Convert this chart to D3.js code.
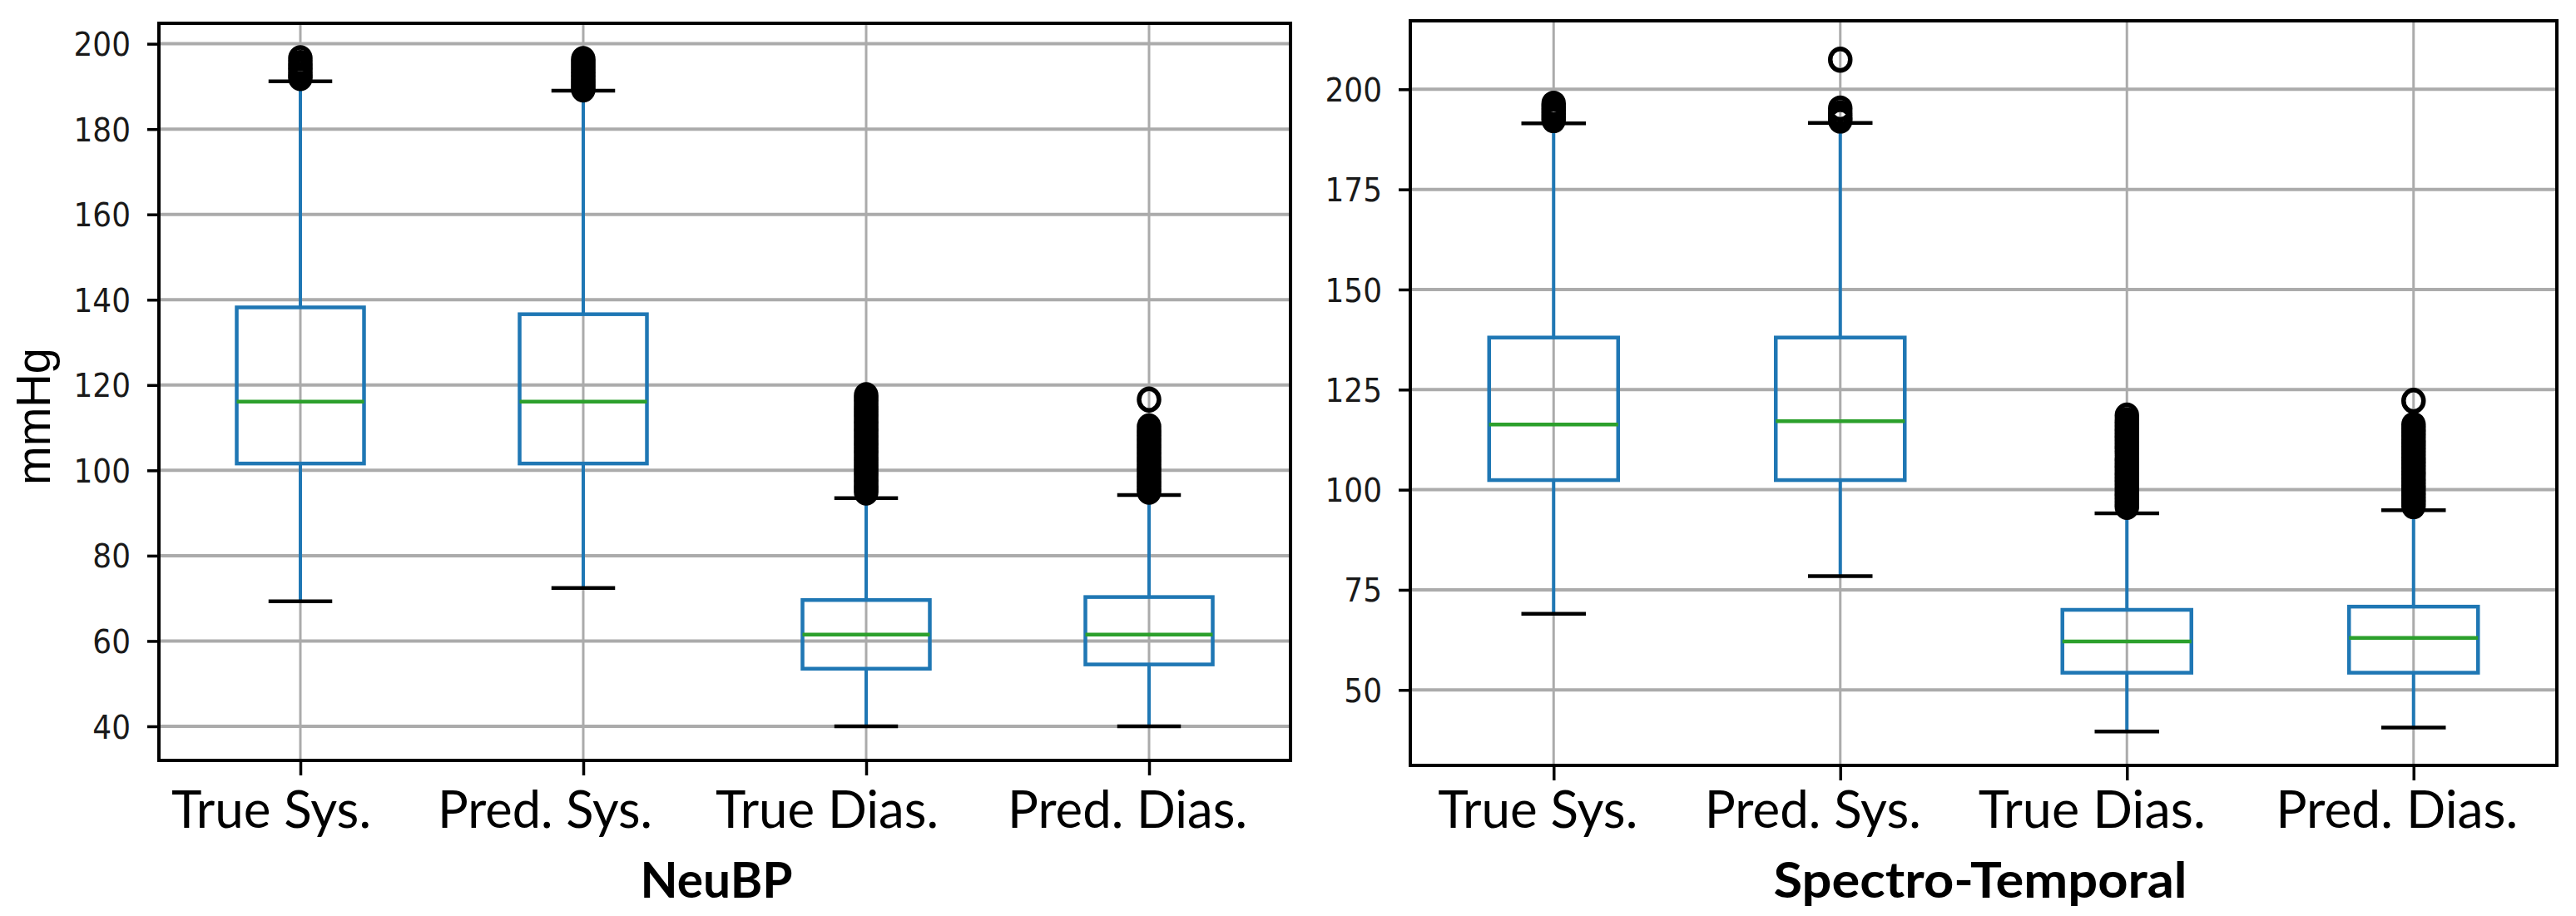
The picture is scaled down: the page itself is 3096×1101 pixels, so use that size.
<!DOCTYPE html>
<html><head><meta charset="utf-8">
<script src="https://cdn.jsdelivr.net/npm/d3@7"></script>
<style>html,body{margin:0;padding:0;background:#fff;} svg{display:block}</style>
</head><body>
<script>
// ---------------- data ----------------
const categories = ["True Sys.", "Pred. Sys.", "True Dias.", "Pred. Dias."];

// NeuBP panel
const neubpWhiskerLow  = [69.3, 72.4, 40.0, 40.0];
const neubpQ1          = [101.6, 101.6, 53.5, 54.5];
const neubpMedian      = [116.1, 116.1, 61.5, 61.5];
const neubpQ3          = [138.2, 136.6, 69.6, 70.3];
const neubpWhiskerHigh = [191.2, 189.0, 93.5, 94.2];
const neubpOutliers = [
  [192.0, 192.7, 193.7, 194.6, 195.5, 196.6],
  [189.3, 190.0, 190.8, 191.6, 192.4, 193.2, 194.0, 194.8, 195.6, 196.4],
  [94.8, 95.6, 96.3, 97.2, 98.0, 98.9, 99.7, 100.6, 101.4, 102.3, 103.1, 104.0, 104.8, 105.7,
   106.5, 107.4, 108.2, 109.1, 109.9, 110.8, 111.6, 112.5, 113.3, 114.2, 115.0, 115.9, 116.8, 117.6],
  [95.0, 95.8, 96.7, 97.5, 98.4, 99.2, 100.1, 100.9, 101.8, 102.6, 103.5, 104.3, 105.2, 106.0,
   106.9, 107.7, 108.6, 109.4, 110.3, 116.6]
];
const neubpTicks = [40, 60, 80, 100, 120, 140, 160, 180, 200];

// Spectro-Temporal panel
const spectroWhiskerLow  = [69.0, 78.4, 39.6, 40.6];
const spectroQ1          = [102.4, 102.4, 54.3, 54.3];
const spectroMedian      = [116.3, 117.1, 62.1, 63.0];
const spectroQ3          = [138.0, 138.0, 70.0, 70.8];
const spectroWhiskerHigh = [191.5, 191.6, 94.1, 94.9];
const spectroOutliers = [
  [192.3, 193.1, 193.9, 194.7, 195.6, 196.4],
  [192.2, 193.0, 194.0, 195.2, 207.4],
  [95.7, 96.5, 97.4, 98.3, 99.1, 100.0, 100.9, 101.8, 102.6, 103.5, 104.4, 105.3, 106.1, 107.0,
   107.9, 109.1, 110.2, 111.0, 111.9, 112.8, 113.6, 114.5, 115.4, 116.3, 117.3, 118.5],
  [95.9, 96.8, 97.6, 98.5, 99.4, 100.3, 101.1, 102.0, 102.9, 103.8, 104.6, 105.5, 106.4, 107.3,
   108.1, 109.0, 109.9, 110.8, 111.6, 112.5, 113.4, 114.3, 115.2, 116.2, 122.2]
];
const spectroTicks = [50, 75, 100, 125, 150, 175, 200];

const panelTitles = ["NeuBP", "Spectro-Temporal"];
const yAxisLabel = "mmHg";

// ---------------- layout ----------------
const W = 3096, H = 1101;
const svg = d3.select("body").append("svg").attr("width", W).attr("height", H);
svg.append("rect").attr("width", W).attr("height", H).attr("fill", "#fff");

const panels = [
  {
    title: panelTitles[0], ticks: neubpTicks,
    stats: { lo: neubpWhiskerLow, q1: neubpQ1, med: neubpMedian, q3: neubpQ3, hi: neubpWhiskerHigh, out: neubpOutliers },
    frame: { l: 191, r: 1551, t: 28, b: 914 }, domain: [32.0, 204.8],
    labelShift: [-35, -46, -47, -26], labelWidth: [240, 258, 268, 288],
    titleX: 861, titleW: 183
  },
  {
    title: panelTitles[1], ticks: spectroTicks,
    stats: { lo: spectroWhiskerLow, q1: spectroQ1, med: spectroMedian, q3: spectroQ3, hi: spectroWhiskerHigh, out: spectroOutliers },
    frame: { l: 1695, r: 3073, t: 25, b: 920 }, domain: [31.15, 217.1],
    labelShift: [-19, -33, -42, -20], labelWidth: [240, 260, 273, 291],
    titleX: 2380, titleW: 497
  }
];

const BLUE = "#1f77b4", GREEN = "#2ca02c", GRID = "#ababab";

panels.forEach(p => {
  const f = p.frame;
  const x = d3.scalePoint().domain(categories).range([f.l, f.r]).padding(0.5);
  const y = d3.scaleLinear().domain(p.domain).range([f.b, f.t]);
  const step = x.step();
  const boxW = 0.45 * step, capW = 0.225 * step;
  const g = svg.append("g");

  // horizontal grid
  g.append("g").selectAll("line").data(p.ticks).join("line")
    .attr("x1", f.l).attr("x2", f.r)
    .attr("y1", d => y(d)).attr("y2", d => y(d))
    .attr("stroke", GRID).attr("stroke-width", 4);
  // vertical grid
  g.append("g").selectAll("line").data(categories).join("line")
    .attr("x1", d => x(d)).attr("x2", d => x(d))
    .attr("y1", f.t).attr("y2", f.b)
    .attr("stroke", GRID).attr("stroke-width", 3);

  const s = p.stats;
  const boxes = g.append("g").selectAll("g").data(categories).join("g");
  // whiskers
  boxes.append("line").attr("x1", d => x(d)).attr("x2", d => x(d))
    .attr("y1", (d, i) => y(s.q1[i])).attr("y2", (d, i) => y(s.lo[i]))
    .attr("stroke", BLUE).attr("stroke-width", 4);
  boxes.append("line").attr("x1", d => x(d)).attr("x2", d => x(d))
    .attr("y1", (d, i) => y(s.q3[i])).attr("y2", (d, i) => y(s.hi[i]))
    .attr("stroke", BLUE).attr("stroke-width", 4);
  // box
  boxes.append("rect")
    .attr("x", d => x(d) - boxW / 2).attr("width", boxW)
    .attr("y", (d, i) => y(s.q3[i])).attr("height", (d, i) => y(s.q1[i]) - y(s.q3[i]))
    .attr("fill", "none").attr("stroke", BLUE).attr("stroke-width", 4.5);
  // median
  boxes.append("line").attr("x1", d => x(d) - boxW / 2).attr("x2", d => x(d) + boxW / 2)
    .attr("y1", (d, i) => y(s.med[i])).attr("y2", (d, i) => y(s.med[i]))
    .attr("stroke", GREEN).attr("stroke-width", 4.5);
  // caps
  boxes.append("line").attr("x1", d => x(d) - capW / 2).attr("x2", d => x(d) + capW / 2)
    .attr("y1", (d, i) => y(s.lo[i])).attr("y2", (d, i) => y(s.lo[i]))
    .attr("stroke", "#000").attr("stroke-width", 4.5);
  boxes.append("line").attr("x1", d => x(d) - capW / 2).attr("x2", d => x(d) + capW / 2)
    .attr("y1", (d, i) => y(s.hi[i])).attr("y2", (d, i) => y(s.hi[i]))
    .attr("stroke", "#000").attr("stroke-width", 4.5);
  // fliers
  boxes.each(function (d, i) {
    d3.select(this).selectAll("ellipse").data(s.out[i]).join("ellipse")
      .attr("cx", x(d)).attr("cy", v => y(v))
      .attr("rx", 12).attr("ry", 13)
      .attr("fill", "none").attr("stroke", "#000").attr("stroke-width", 5.5);
  });

  // y axis ticks + labels
  const yAxis = d3.axisLeft(y).tickValues(p.ticks).tickSize(14).tickPadding(20).tickFormat(d3.format("d"));
  const ya = g.append("g").attr("transform", `translate(${f.l},0)`).call(yAxis);
  ya.select(".domain").remove();
  ya.selectAll(".tick line").attr("stroke", "#000").attr("stroke-width", 3.5);
  ya.selectAll(".tick text")
    .attr("fill", "#1a1a1a").attr("font-family", "DejaVu Sans").attr("font-size", 39)
    .attr("dy", "0.36em")
    .each(function () {
      const len = this.getComputedTextLength();
      d3.select(this).attr("textLength", len * 0.92).attr("lengthAdjust", "spacingAndGlyphs");
    });

  // x axis ticks
  const xAxis = d3.axisBottom(x).tickSize(18).tickFormat("");
  const xa = g.append("g").attr("transform", `translate(0,${f.b})`).call(xAxis);
  xa.select(".domain").remove();
  xa.selectAll(".tick line").attr("stroke", "#000").attr("stroke-width", 3.5);

  // x category labels
  g.append("g").selectAll("text").data(categories).join("text")
    .attr("x", (d, i) => x(d) + p.labelShift[i]).attr("y", 995)
    .attr("text-anchor", "middle")
    .attr("font-family", "Lato, 'Open Sans', sans-serif").attr("font-size", 62)
    .attr("fill", "#000")
    .attr("textLength", (d, i) => p.labelWidth[i]).attr("lengthAdjust", "spacingAndGlyphs")
    .text(d => d);

  // frame (spines)
  g.append("rect").attr("x", f.l).attr("y", f.t).attr("width", f.r - f.l).attr("height", f.b - f.t)
    .attr("fill", "none").attr("stroke", "#000").attr("stroke-width", 4);

  // title
  g.append("text").attr("x", p.titleX).attr("y", 1079).attr("text-anchor", "middle")
    .attr("font-family", "Lato, 'Open Sans', sans-serif").attr("font-weight", "bold")
    .attr("font-size", 60).attr("fill", "#000")
    .attr("textLength", p.titleW).attr("lengthAdjust", "spacingAndGlyphs")
    .text(p.title);
});

// y axis label
svg.append("text")
  .attr("transform", "translate(60,500.5) rotate(-90)")
  .attr("text-anchor", "middle")
  .attr("font-family", "'Liberation Sans', Arial, sans-serif").attr("font-size", 58)
  .attr("fill", "#000")
  .attr("textLength", 165).attr("lengthAdjust", "spacingAndGlyphs")
  .text(yAxisLabel);
</script>
</body></html>
